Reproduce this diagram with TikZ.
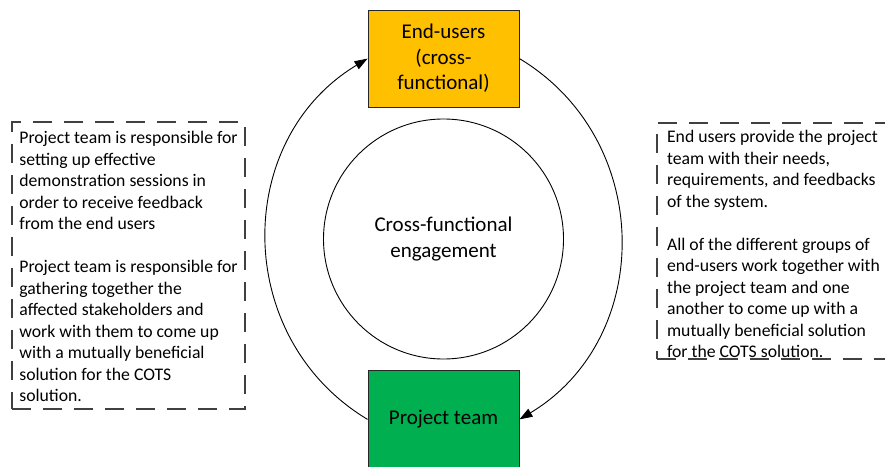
\documentclass[tikz,border=0pt]{standalone}
\usepackage{fontspec}
\setmainfont{Carlito}
\usepackage{tikz}
\usetikzlibrary{arrows.meta,positioning}
\usepackage{xcolor}
\definecolor{useramber}{HTML}{FFC000}
\definecolor{teamgreen}{HTML}{00B050}
\definecolor{framegray}{HTML}{404040}

\begin{document}
\begin{tikzpicture}[x=1pt, y=1pt,
    role/.style={draw=black!85, line width=0.9pt, fill=#1, minimum width=151pt,
                 minimum height=97pt, align=center, font=\fontsize{21}{25.5}\selectfont},
    ring/.style={circle, draw, line width=0.9pt, minimum size=240pt, inner sep=0pt,
                 align=center, font=\fontsize{21}{25.5}\selectfont},
    note/.style={draw=framegray, line width=1.2pt, dash pattern=on 19pt off 12pt,
                 minimum width=233pt, inner xsep=6pt, inner ysep=0pt, align=left,
                 font=\fontsize{17.7}{21.5}\selectfont},
    flow/.style={-{Triangle[length=13pt,width=9pt]}, line width=0.9pt}
  ]
    \useasboundingbox (0,0) rectangle (885,466);

    \node[ring] (core) at (443.5,227) {Cross-functional\\engagement};
    \node[role=useramber, above=11pt of core] (users) {End-users\\(cross-\\functional)};
    \node[role=teamgreen, below=11pt of core] (team)  {Project team};

    \draw[flow] (team.west)  to[out=149, in=211, looseness=1.12] (users.west);
    \draw[flow] (users.east) to[out=-31, in=31, looseness=1.12]  (team.east);

    \node[note, minimum height=287pt] (teamduty) at (128.5,200.5)
      {\rule{0pt}{15pt}Project team is responsible for\\
       setting up effective\\
       demonstration sessions in\\
       order to receive feedback\\
       from the end users\\[21.5pt]
       Project team is responsible for\\
       gathering together the\\
       affected stakeholders and\\
       work with them to come up\\
       with a mutually beneficial\\
       solution for the COTS\\
       solution.};
    % text runs down to the bottom edge here
    \node[note, minimum height=236pt] (userduty) at (773.5,225)
      {\rule{0pt}{19pt}End users provide the project\\
       team with their needs,\\
       requirements, and feedbacks\\
       of the system.\\[21.5pt]
       All of the different groups of\\
       end-users work together with\\
       the project team and one\\
       another to come up with a\\
       mutually beneficial solution\\
       for the COTS solution.};
  \end{tikzpicture}
\end{document}
